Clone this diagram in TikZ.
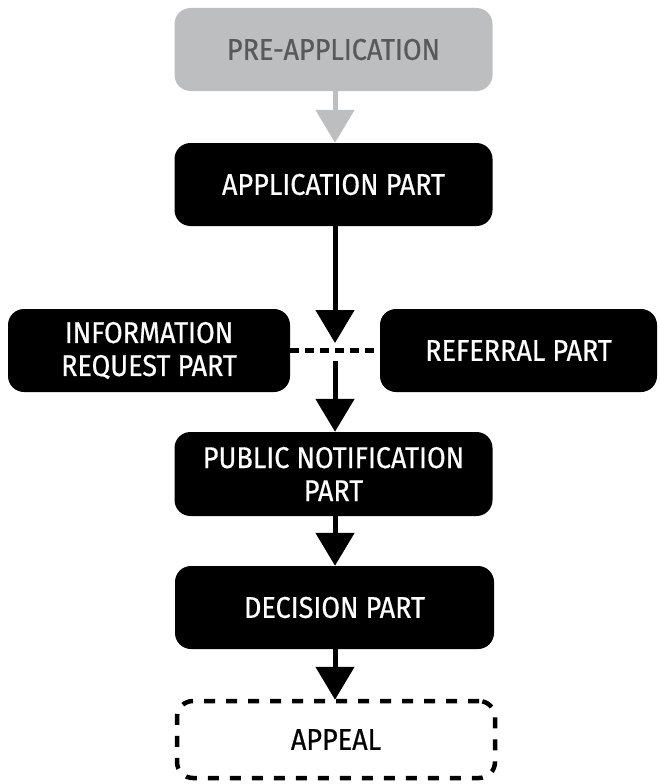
\documentclass[tikz,border=0pt]{standalone}
\usepackage{fontspec}
\setmainfont{Fira Sans}[FakeStretch=0.9, FakeBold=0.6]
\usetikzlibrary{arrows.meta}
\definecolor{preFill}{RGB}{189,190,192}
\definecolor{preText}{RGB}{88,89,91}
\tikzset{
  box/.style={rounded corners=16pt, inner sep=0pt, align=center, font=\fontsize{30}{33}\selectfont,
    minimum height=83pt},
  blackbox/.style={box, fill=black, text=white},
  prebox/.style={box, fill=preFill, text=preText},
  appealbox/.style={box, draw=black, line width=4.5pt, dash pattern=on 11pt off 11pt, text=black, minimum height=77pt},
  flow/.style={line width=5pt, -{Triangle[length=33pt,width=38pt]}},
  grayflow/.style={flow, draw=preFill, fill=preFill},
  blackflow/.style={flow, draw=black},
  link/.style={line width=4.5pt, dash pattern=on 8.5pt off 6.5pt},
}
\begin{document}
\begin{tikzpicture}[x=1pt,y=-1pt]
\useasboundingbox (0,0) rectangle (659,784);
\node[prebox, minimum width=318pt] (pre) at (333.5,49.5) {PRE-APPLICATION};
\node[blackbox, minimum width=318pt] (app) at (333.5,184.5) {APPLICATION PART};
\node[blackbox, minimum width=282pt] (info) at (149,350.5) {INFORMATION\\REQUEST PART};
\node[blackbox, minimum width=277pt] (ref) at (518.5,350.5) {REFERRAL PART};
\node[blackbox, minimum width=318pt, minimum height=84pt] (pub) at (333.5,474) {PUBLIC NOTIFICATION\\PART};
\node[blackbox, minimum width=319pt] (dec) at (334.5,607.5) {DECISION PART};
\node[appealbox, minimum width=318pt] (appeal) at (336,739.5) {APPEAL};
\coordinate (tipA) at (335,343);
\coordinate (restart) at (335,361);
\draw[grayflow] (pre.south -| 335,0) -- (app.north -| 335,0);
\draw[blackflow] (app.south -| tipA) -- (tipA);
\draw[link] (info.east) -- (ref.west);
\draw[blackflow] (restart) -- (pub.north -| restart);
\draw[blackflow] (pub.south -| restart) -- (dec.north -| restart);
\draw[blackflow] (dec.south -| restart) -- ([yshift=-1pt]appeal.north -| restart);
\end{tikzpicture}
\end{document}
